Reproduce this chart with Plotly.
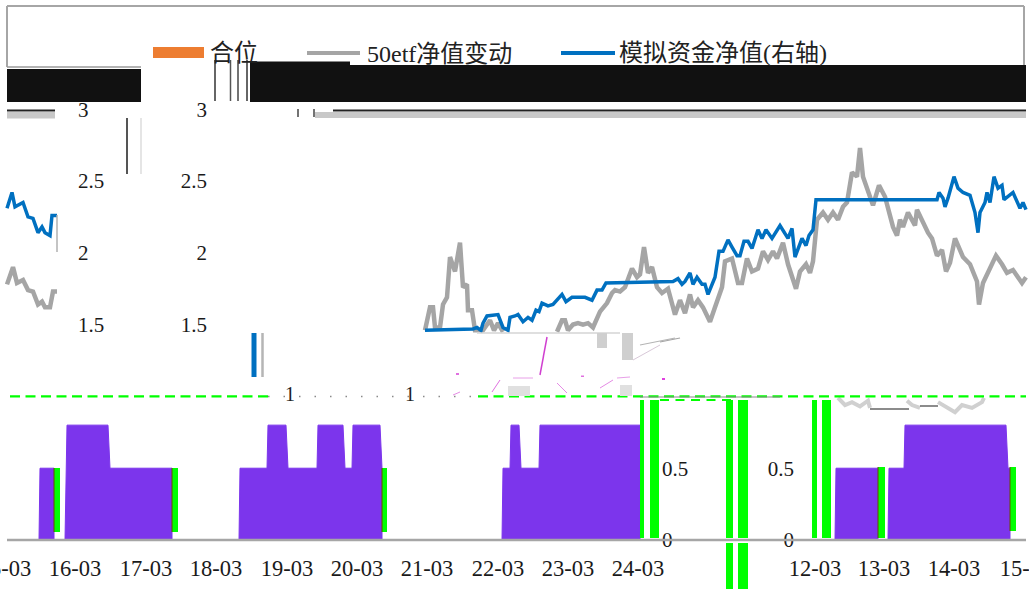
import plotly.graph_objects as go

W, H = 1029, 589
Y_RANGE = [-0.341, 3.760]

# sample index along the time axis
tick_index = [5, 75, 146, 216, 287, 357, 427, 498, 568, 638, 815, 884, 954, 1026]
tick_labels = ["15-03", "16-03", "17-03", "18-03", "19-03", "20-03", "21-03", "22-03",
               "23-03", "24-03", "12-03", "13-03", "14-03", "15-03"]

fund_x = [7, 12, 15, 23, 28, 33, 38, 42, 45, 50, 52, 57, None,
          425, 473, 477, 481, 483, 487, 498, 503, 508, 510, 515, 518, 523, 528, 532, 536, 539,
          542, 548, 553, 562, 566, 572, 578, 585, 592, 597, 602, 606, 673, 678, 682, 685, 690,
          693, 697, 702, 705, 708, 715, 719, 723, 728, 732, 737, 740, 744, 748, 752, 758, 762,
          766, 772, 780, 785, 788, 792, 795, 802, 806, 809, 813, 816, 937, 939, 943, 945, 948,
          954, 958, 963, 970, 975, 978, 980, 985, 987, 990, 994, 998, 1002, 1004, 1013, 1020,
          1023, 1026]
fund_nav = [2.31, 2.42, 2.32, 2.35, 2.25, 2.24, 2.14, 2.18, 2.14, 2.12, 2.26, 2.26, None,
            1.46, 1.47, 1.48, 1.46, 1.51, 1.56, 1.57, 1.48, 1.46, 1.55, 1.56, 1.57, 1.52, 1.55, 1.53, 1.60, 1.59,
            1.65, 1.63, 1.64, 1.71, 1.66, 1.69, 1.69, 1.69, 1.67, 1.74, 1.74, 1.79, 1.80, 1.82, 1.78, 1.80, 1.86,
            1.78, 1.83, 1.78, 1.78, 1.71, 1.83, 2.01, 2.01, 2.09, 2.04, 1.98, 1.98, 2.08, 2.08, 2.03, 2.16, 2.10,
            2.16, 2.10, 2.19, 2.14, 2.10, 2.17, 1.97, 2.10, 2.05, 2.12, 2.16, 2.37, 2.37, 2.42, 2.38, 2.32, 2.38,
            2.53, 2.45, 2.42, 2.40, 2.28, 2.14, 2.28, 2.35, 2.42, 2.35, 2.53, 2.45, 2.47, 2.37, 2.42, 2.31,
            2.35, 2.30]

etf_x = [7, 13, 17, 23, 28, 33, 38, 42, 45, 50, 53, 57, None,
         425, 430, 433, 435, 440, 443, 447, 450, 455, 460, 463, 467, 468, 472, 475, 483, 490, 494, 498, 503, None,
         557, 562, 565, 568, 573, 578, 583, 588, 593, 597, 600, 607, 612, 615, 620, 625, 632, 637, 640, 644, 648,
         652, 657, 662, 668, 675, 680, 685, 690, 693, 698, 703, 710, 715, 722, 725, 732, 738, 742, 747, 752, 758,
         763, 768, 773, 777, 783, 788, 796, 800, 806, 810, 813, 817, 823, 828, 833, 838, 843, 847, 852, 857, 860,
         863, 868, 873, 879, 885, 893, 897, 900, 903, 908, 915, 917, 923, 928, 932, 937, 942, 946, 950, 955, 963,
         970, 977, 979, 983, 988, 996, 1002, 1007, 1013, 1022, 1026]
etf_nav = [1.78, 1.90, 1.79, 1.81, 1.74, 1.73, 1.64, 1.66, 1.62, 1.62, 1.73, 1.73, None,
           1.46, 1.62, 1.62, 1.48, 1.48, 1.64, 1.69, 1.97, 1.87, 2.07, 1.76, 1.78, 1.60, 1.60, 1.46, 1.46, 1.53, 1.46, 1.51, 1.45, None,
           1.45, 1.53, 1.53, 1.46, 1.50, 1.51, 1.50, 1.51, 1.48, 1.55, 1.59, 1.65, 1.72, 1.74, 1.73, 1.76, 1.89, 1.83, 1.85, 2.04, 1.86,
           1.90, 1.76, 1.72, 1.75, 1.57, 1.67, 1.58, 1.71, 1.62, 1.67, 1.62, 1.52, 1.62, 1.76, 1.94, 1.96, 1.79, 1.79, 1.96, 1.87, 1.89,
           2.01, 1.95, 2.01, 1.96, 2.07, 1.92, 1.75, 1.87, 1.92, 1.86, 1.94, 2.23, 2.28, 2.23, 2.28, 2.23, 2.32, 2.35, 2.56, 2.53, 2.73,
           2.53, 2.44, 2.33, 2.47, 2.39, 2.18, 2.12, 2.23, 2.18, 2.28, 2.19, 2.30, 2.21, 2.14, 2.10, 1.98, 2.02, 1.87, 1.93, 2.10, 1.97,
           1.92, 1.80, 1.64, 1.79, 1.87, 1.98, 1.92, 1.86, 1.88, 1.79, 1.83]

ghost_x = [838, 845, 852, 860, 868, 870, None, 907, 912, 920, None, 938, 948, 955, 962, 972, 982, 984]
ghost_nav = [0.99, 0.94, 0.96, 0.93, 0.97, 0.92, None, 0.97, 0.94, 0.92, None, 0.96, 0.92, 0.89, 0.94, 0.92, 0.96, 0.99]

position_x = [39, 40, 54, 54, None, 65, 67, 108, 110, 172, 172, None,
              239, 240, 267, 268, 286, 288, 317, 318, 343, 345, 352, 353, 380, 382, 382, None,
              502, 503, 510, 511, 519, 521, 539, 540, 640, 640, None,
              835, 836, 878, 878, None, 888, 889, 904, 905, 1006, 1008, 1010, 1010]
position = [0, 0.5, 0.5, 0, None, 0, 0.8, 0.8, 0.5, 0.5, 0, None,
            0, 0.5, 0.5, 0.8, 0.8, 0.5, 0.5, 0.8, 0.8, 0.5, 0.5, 0.8, 0.8, 0.5, 0, None,
            0, 0.5, 0.5, 0.8, 0.8, 0.5, 0.5, 0.8, 0.8, 0, None,
            0, 0.5, 0.5, 0, None, 0, 0.5, 0.5, 0.8, 0.8, 0.5, 0.5, 0]

level_x = [10, 268, None, 478, 1026]
level = [1, 1, None, 1, 1]
level_dots_x = [268, 478]
level_dots = [1, 1]
level_low_x = [660, 735]
level_low = [0.975, 0.975]

left_ticks = [1.5, 2, 2.5, 3]
right_ticks = [0, 0.5]

BLUE, GREY, PURPLE, GREEN = "#0070c0", "#a5a5a5", "#7c35ec", "#00ff00"
SERIF = "Liberation Serif, Noto Sans CJK SC"


def fx(p):
    return p / W


def fy(p):
    return 1 - p / H


def rect(x0, y0, x1, y1, color):
    return dict(type="rect", xref="paper", yref="paper", x0=fx(x0), x1=fx(x1), y0=fy(y0), y1=fy(y1),
                fillcolor=color, line_width=0, layer="above")


def seg(x0, y0, x1, y1, color, width=1.0):
    return dict(type="line", xref="paper", yref="paper", x0=fx(x0), x1=fx(x1), y0=fy(y0), y1=fy(y1),
                line=dict(color=color, width=width), layer="above")


fig = go.Figure()
fig.add_trace(go.Scatter(x=position_x, y=position, name="合位", mode="lines", fill="tozeroy",
                         fillcolor=PURPLE, line=dict(color=PURPLE, width=1), yaxis="y3"))
fig.add_trace(go.Scatter(x=etf_x, y=etf_nav, name="50etf净值变动", mode="lines",
                         line=dict(color=GREY, width=4.5), yaxis="y"))
fig.add_trace(go.Scatter(x=ghost_x, y=ghost_nav, name="50etf净值变动 残影", mode="lines",
                         line=dict(color="#d0d0d0", width=4), yaxis="y"))
fig.add_trace(go.Scatter(x=fund_x, y=fund_nav, name="模拟资金净值(右轴)", mode="lines",
                         line=dict(color=BLUE, width=3.5), yaxis="y2"))
fig.add_trace(go.Scatter(x=level_dots_x, y=level_dots, mode="lines", name="1",
                         line=dict(color="#8a8a8a", width=1.5, dash="1.5px,14px"), yaxis="y4"))
fig.add_trace(go.Scatter(x=level_x, y=level, mode="lines", name="1",
                         line=dict(color=GREEN, width=2.2, dash="10px,5.5px"), yaxis="y4"))
fig.add_trace(go.Scatter(x=level_low_x, y=level_low, mode="lines", name="1",
                         line=dict(color=GREEN, width=2.2, dash="9px,6.5px"), yaxis="y4"))

shapes = [
    # frame of the chart
    seg(7, 6, 1024, 6, "#a6a6a6", 2), seg(7, 6, 7, 67, "#a6a6a6", 2), seg(1024, 6, 1024, 65, "#a6a6a6", 2),
    seg(7, 67, 141, 67, "#9a9a9a", 1.5),
    # black bands
    rect(7, 69, 141, 102, "#111111"), rect(250, 61.5, 350, 102, "#111111"), rect(350, 65, 1026, 102, "#111111"),
    # thin bands below them
    rect(7, 112, 55, 118.5, "#c8c8c8"), seg(7, 110.5, 55, 110.5, "#222222", 2),
    rect(315, 112, 1026, 118, "#c8c8c8"), seg(333, 110.5, 1026, 110.5, "#222222", 2),
    seg(298, 109, 298, 117, "#444444", 1.5), seg(314, 109, 314, 117, "#444444", 1.5),
    seg(127, 118, 127, 174, "#555555", 2), seg(141, 118, 141, 174, "#dddddd", 1.5),
    seg(215, 60, 215, 101, "#333333", 1.5), seg(230.5, 60, 230.5, 101, "#555555", 1.5),
    seg(238, 60, 238, 101, "#444444", 1.5), seg(247, 60, 247, 101, "#333333", 1.5),
    seg(57, 215, 57, 252, "#b0b0b0", 1.5),
    rect(251.5, 333, 256.5, 377, BLUE), seg(262.5, 333, 262.5, 377, "#b5b5b5", 2.5),
    # axis base line
    seg(7, 540, 1026, 540, "#a6a6a6", 2.5),
    seg(640, 397, 780, 397, "#8a8a8a", 1.2),
    seg(870, 409, 909, 409, "#666666", 1.5), seg(920, 406, 938, 406, "#666666", 1.5),
    # torn fragments
    seg(477, 333, 620, 333, "#d4d4d4", 1.5),
    rect(597, 333, 607, 348, "#cfcfcf"), rect(622, 333, 633, 360, "#cfcfcf"),
    rect(508, 386, 530, 396, "#e0e0e0"), rect(620, 385, 632, 396, "#e0e0e0"),
    seg(540, 375, 547, 337, "#d040d0", 1.5), seg(492, 392, 500, 380, "#e070e0", 1),
    seg(453, 395, 460, 392, "#e58be5", 1), seg(513, 378, 533, 378, "#e8a0e8", 1),
    seg(557, 383, 567, 393, "#e58be5", 1), seg(600, 388, 613, 380, "#e58be5", 1),
    seg(617, 378, 630, 377, "#e8a0e8", 1), seg(633, 360, 660, 345, "#d8c8d8", 1),
    seg(640, 345, 675, 338, "#b5b5b5", 1.2), seg(660, 342, 680, 338, "#a5a5a5", 1.2),
    rect(581, 375.5, 584, 377, "#e070e0"), rect(662, 378, 665, 380, "#e040e0"),
    rect(456, 373, 459, 375, "#e070e0"),
    # legend keys
    rect(153, 47, 204, 58, "#ed7d31"), seg(307, 53, 360, 53, GREY, 4), seg(561, 53, 615, 53, BLUE, 4),
]
for bar in [(54, 60, 468, 532), (172, 178, 468, 532), (382, 387, 468, 532), (640, 644, 400, 538),
            (650, 659, 400, 538), (726, 733, 400, 538), (726, 733, 543, 589), (738, 748, 400, 538),
            (738, 748, 543, 589), (812, 817, 400, 538), (822, 831, 400, 538), (878, 885, 467, 538),
            (1010, 1016, 467, 531)]:
    shapes.append(rect(bar[0], bar[2], bar[1], bar[3], GREEN))
for edge in [(54, 468, 532), (172, 468, 532), (382, 468, 532), (878, 467, 538), (1010, 467, 531)]:
    shapes.append(seg(edge[0], edge[1], edge[0], edge[2], "#6a4a00", 1))

anns = []
for txt, x, y, size in [("合位", 208, 53, 24), ("50etf净值变动", 365, 54, 24), ("模拟资金净值(右轴)", 617, 53, 24),
                        ("1", 290, 394, 20), ("1", 410, 394, 20)]:
    anns.append(dict(text=txt, xref="paper", yref="paper", x=fx(x), y=fy(y), xanchor="left" if size > 21 else "center",
                     yanchor="middle", showarrow=False, font=dict(family=SERIF, size=size, color="#222222")))

common = dict(range=Y_RANGE, showgrid=False, zeroline=False, showline=False, ticks="",
              tickfont=dict(family=SERIF, size=21, color="#1a1a1a"), tickmode="array", anchor="free")

fig.update_layout(
    width=W, height=H, autosize=False, margin=dict(l=0, r=0, t=0, b=0, autoexpand=False),
    paper_bgcolor="white", plot_bgcolor="white", showlegend=False,
    shapes=shapes, annotations=anns,
    xaxis=dict(range=[0, W], domain=[0, 1], showgrid=False, zeroline=False, showline=False, ticks="",
               tickmode="array", tickvals=tick_index, ticktext=tick_labels, anchor="free", position=0.0832,
               ticklabeloverflow="allow", tickangle=0, ticklabelstandoff=13,
               tickfont=dict(family=SERIF, size=22.5, color="#1a1a1a")),
    yaxis=dict(**common, side="right", position=fx(77), tickvals=left_ticks),
    yaxis2=dict(**common, side="left", position=fx(207), tickvals=left_ticks, overlaying="y"),
    yaxis3=dict(**common, side="right", position=fx(661), tickvals=right_ticks, overlaying="y"),
    yaxis4=dict(**common, side="left", position=fx(794), tickvals=right_ticks, overlaying="y"),
)

fig.write_html("out.html", config=dict(displayModeBar=False),
               post_script="document.body.style.margin='0';document.body.style.overflow='hidden';")
